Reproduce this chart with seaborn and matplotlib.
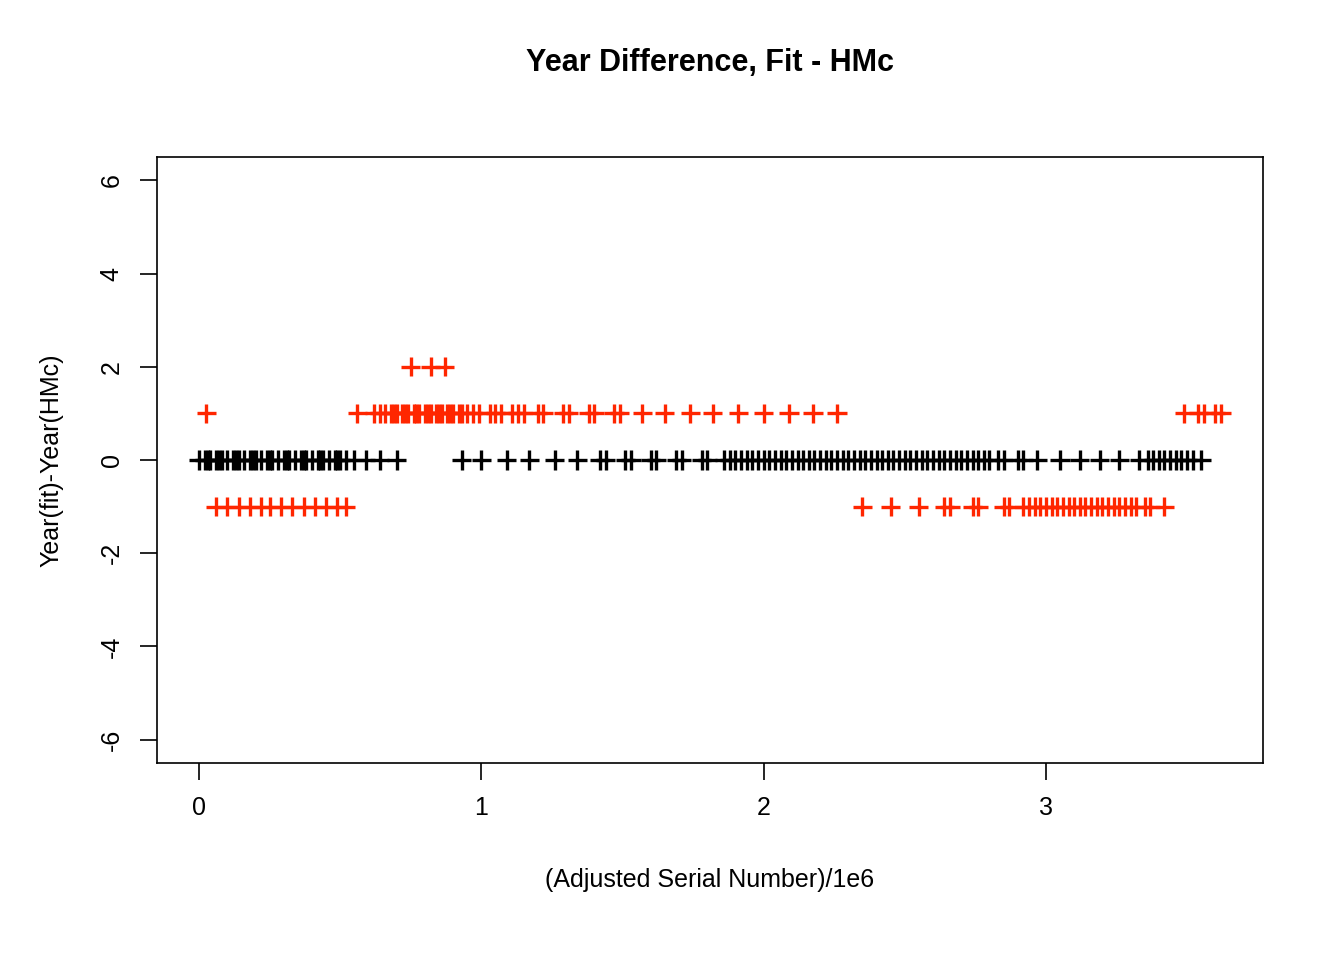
import pandas as pd
import seaborn as sns
import matplotlib.pyplot as plt

# points (x in units of 1e6)
black_x = [
    0.00, 0.02, 0.03, 0.04, 0.06, 0.07, 0.08, 0.10, 0.12, 0.13, 0.14, 0.16, 0.18, 0.19, 0.20,
    0.22, 0.24, 0.25, 0.26, 0.28, 0.30, 0.31, 0.32, 0.34, 0.36, 0.37, 0.38, 0.40, 0.42,
    0.43, 0.44, 0.46, 0.48, 0.49, 0.50, 0.52, 0.55, 0.59, 0.64, 0.70, 0.93, 1.00, 1.09,
    1.17, 1.26, 1.34, 1.42, 1.44, 1.51, 1.53, 1.60, 1.62, 1.69, 1.71, 1.78, 1.80, 1.86,
    1.88, 1.90, 1.92, 1.94, 1.96, 1.98, 2.00, 2.02, 2.04, 2.06, 2.08, 2.10, 2.12, 2.14,
    2.16, 2.18, 2.20, 2.22, 2.24, 2.26, 2.28, 2.30, 2.32, 2.34, 2.36, 2.38, 2.40, 2.42,
    2.44, 2.46, 2.48, 2.50, 2.52, 2.54, 2.56, 2.58, 2.60, 2.62, 2.64, 2.66, 2.68, 2.70,
    2.72, 2.74, 2.76, 2.78, 2.80, 2.83, 2.85, 2.90, 2.92, 2.97, 3.05, 3.12, 3.19, 3.26,
    3.33, 3.36, 3.38, 3.40, 3.42, 3.44, 3.46, 3.48, 3.50, 3.52, 3.55,
]
red_plus1_x = [
    0.025, 0.56, 0.62, 0.64, 0.66, 0.68, 0.69, 0.70, 0.72, 0.73, 0.74, 0.76, 0.77, 0.78,
    0.80, 0.81, 0.82, 0.84, 0.85, 0.86, 0.88, 0.89, 0.90, 0.92, 0.93, 0.95, 0.97, 0.99,
    1.03, 1.05, 1.07, 1.11, 1.13, 1.15, 1.20, 1.22, 1.29, 1.31, 1.38, 1.40, 1.47, 1.49,
    1.57, 1.65, 1.74, 1.82, 1.91, 2.00, 2.09, 2.175, 2.26, 3.49, 3.54, 3.56, 3.60, 3.62,
]
red_plus2_x = [0.75, 0.82, 0.87]
red_minus1_x = [
    0.06, 0.10, 0.14, 0.18, 0.22, 0.25, 0.29, 0.33, 0.37, 0.41, 0.45, 0.49, 0.52,
    2.35, 2.45, 2.55, 2.64, 2.66, 2.74, 2.76, 2.85, 2.87, 2.92, 2.94, 2.96, 2.98, 3.00,
    3.02, 3.04, 3.06, 3.08, 3.10, 3.12, 3.14, 3.16, 3.18, 3.20, 3.22, 3.24, 3.26, 3.28,
    3.30, 3.32, 3.35, 3.37, 3.42,
]

df = pd.concat([
    pd.DataFrame({"x": black_x, "diff": 0, "grp": "ok"}),
    pd.DataFrame({"x": red_plus1_x, "diff": 1, "grp": "off"}),
    pd.DataFrame({"x": red_plus2_x, "diff": 2, "grp": "off"}),
    pd.DataFrame({"x": red_minus1_x, "diff": -1, "grp": "off"}),
])

sns.set_style("white")
plt.rcParams["font.family"] = ["Liberation Sans", "DejaVu Sans"]
plt.rcParams["text.color"] = "black"
plt.rcParams["axes.labelcolor"] = "black"
plt.rcParams["xtick.color"] = "black"
plt.rcParams["ytick.color"] = "black"

fig = plt.figure(figsize=(13.44, 9.6), dpi=100)
ax = fig.add_axes([157 / 1344, 1 - 763 / 960, (1263 - 157) / 1344, (763 - 157) / 960])

sns.scatterplot(
    data=df, x="x", y="diff", hue="grp",
    palette={"ok": "black", "off": "#ff2600"},
    marker="+", s=190, linewidth=2.4, legend=False, ax=ax,
)

ax.set_xlim(-0.149, 3.769)
ax.set_ylim(-6.5, 6.5)
ax.set_xticks([0, 1, 2, 3])
ax.set_yticks([-6, -4, -2, 0, 2, 4, 6])
ax.set_yticklabels(["-6", "-4", "-2", "0", "2", "4", "6"], rotation=90, va="center")
ax.tick_params(labelsize=18, length=12, width=1.2, direction="out",
               bottom=True, left=True, pad=12)
for side in ax.spines:
    ax.spines[side].set_visible(True)
    ax.spines[side].set_linewidth(1.2)
    ax.spines[side].set_color("black")

ax.set_xlabel("(Adjusted Serial Number)/1e6", fontsize=18, labelpad=34)
ax.set_ylabel("Year(fit)-Year(HMc)", fontsize=18, labelpad=26)
ax.set_title("Year Difference, Fit - HMc", fontsize=22, fontweight="bold", pad=62)

plt.savefig("out.png", dpi=100)
